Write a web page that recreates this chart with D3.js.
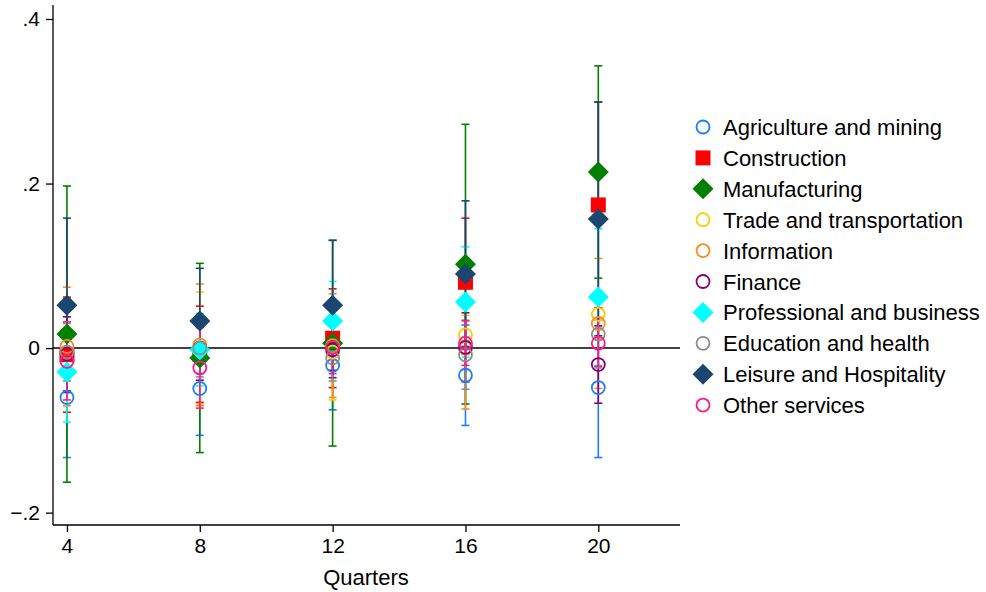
<!DOCTYPE html>
<html>
<head>
<meta charset="utf-8">
<script src="https://cdn.jsdelivr.net/npm/d3@7"></script>
<style>
  body { margin: 0; background: #fff; }
  svg { display: block; font-family: "Liberation Sans", Arial, sans-serif; }
</style>
</head>
<body>
<svg id="chart" width="986" height="592"></svg>
<script>
// Horizons (quarters) at which the effects are estimated
const quarters = [4, 8, 12, 16, 20];

// Industries, in plotting order
const industries = [
  "Agriculture and mining", "Construction", "Manufacturing",
  "Trade and transportation", "Information", "Finance",
  "Professional and business", "Education and health",
  "Leisure and Hospitality", "Other services"
];

// Point estimates per industry (one value per quarter)
const agriculture   = [-0.060, -0.049, -0.021, -0.033, -0.048];
const construction  = [-0.008, -0.007,  0.012,  0.080,  0.174];
const manufacturing = [ 0.017, -0.012,  0.006,  0.102,  0.214];
const trade         = [-0.005,  0.000, -0.005,  0.016,  0.041];
const information   = [ 0.002,  0.004,  0.003,  0.000,  0.030];
const finance       = [-0.007,  0.000, -0.002,  0.001, -0.020];
const professional  = [-0.029, -0.002,  0.033,  0.056,  0.062];
const education     = [-0.005,  0.000, -0.012, -0.008,  0.017];
const leisure       = [ 0.052,  0.033,  0.052,  0.090,  0.157];
const otherServices = [-0.016, -0.024,  0.001,  0.006,  0.006];

// Lower / upper confidence bounds per industry
const agricultureLo   = [-0.133, -0.106, -0.075, -0.094, -0.133];
const agricultureHi   = [ 0.013,  0.008,  0.033,  0.028,  0.037];
const constructionLo  = [-0.078, -0.066, -0.048,  0.002,  0.049];
const constructionHi  = [ 0.062,  0.051,  0.072,  0.158,  0.299];
const manufacturingLo = [-0.163, -0.127, -0.119, -0.068,  0.085];
const manufacturingHi = [ 0.197,  0.103,  0.131,  0.272,  0.343];
const tradeLo         = [-0.070, -0.068, -0.063, -0.008,  0.012];
const tradeHi         = [ 0.060,  0.068,  0.053,  0.040,  0.070];
const informationLo   = [-0.070, -0.070, -0.060, -0.074, -0.049];
const informationHi   = [ 0.074,  0.078,  0.066,  0.074,  0.109];
const financeLo       = [-0.052, -0.039, -0.036, -0.041, -0.067];
const financeHi       = [ 0.038,  0.039,  0.032,  0.043,  0.027];
const professionalLo  = [-0.090, -0.046, -0.015, -0.011, -0.021];
const professionalHi  = [ 0.032,  0.042,  0.081,  0.123,  0.145];
const educationLo     = [-0.040, -0.035, -0.040, -0.050, -0.024];
const educationHi     = [ 0.030,  0.035,  0.016,  0.034,  0.058];
const leisureLo       = [-0.054, -0.031, -0.027,  0.001,  0.015];
const leisureHi       = [ 0.158,  0.097,  0.131,  0.179,  0.299];
const otherLo         = [-0.063, -0.073, -0.031, -0.021, -0.022];
const otherHi         = [ 0.032,  0.025,  0.033,  0.033,  0.034];

const estimates = [agriculture, construction, manufacturing, trade, information,
                   finance, professional, education, leisure, otherServices];
const lowers = [agricultureLo, constructionLo, manufacturingLo, tradeLo, informationLo,
                financeLo, professionalLo, educationLo, leisureLo, otherLo];
const uppers = [agricultureHi, constructionHi, manufacturingHi, tradeHi, informationHi,
                financeHi, professionalHi, educationHi, leisureHi, otherHi];

const colors = ["#1a7fff", "#ff0000", "#008000", "#ffcc00", "#ff8c1a",
                "#800080", "#00ffff", "#8c8c8c", "#1a4670", "#ff1a8c"];
const shapes = ["circle", "square", "diamond", "circle", "circle",
                "circle", "diamond", "circle", "diamond", "circle"];

const yTicks = [-0.2, 0, 0.2, 0.4];

const svg = d3.select("#chart");
const x = d3.scaleLinear().domain([3.58, 22.46]).range([53, 680]);
const y = d3.scaleLinear().domain([-0.215, 0.417]).range([525, 5]);

const fmt = v => v === 0 ? "0" : (v < 0 ? "\u2212" : "") + d3.format(".1f")(Math.abs(v)).replace(/^0/, "");

// Axes
const yAxis = svg.append("g").attr("transform", "translate(53,0)")
  .call(d3.axisLeft(y).tickValues(yTicks).tickFormat(fmt).tickSize(7).tickPadding(6));
const xAxis = svg.append("g").attr("transform", "translate(0,525)")
  .call(d3.axisBottom(x).tickValues(quarters).tickFormat(d3.format("d")).tickSize(7).tickPadding(6));
[yAxis, xAxis].forEach(a => {
  a.select(".domain").attr("stroke", "#000").attr("stroke-width", 1.3);
  a.selectAll(".tick line").attr("stroke", "#000").attr("stroke-width", 1.3);
  a.selectAll(".tick text").attr("fill", "#000").attr("font-size", 21)
    .attr("font-family", "Liberation Sans, Arial, sans-serif");
});
yAxis.select(".domain").attr("d", "M0,5V525");
xAxis.select(".domain").attr("d", "M53,0H680");

svg.append("text").attr("x", 366).attr("y", 585).attr("text-anchor", "middle")
  .attr("font-size", 22).text("Quarters");

// Zero reference line
svg.append("line").attr("x1", 53).attr("x2", 680).attr("y1", y(0)).attr("y2", y(0))
  .attr("stroke", "#000").attr("stroke-width", 1.5);

// Confidence intervals with caps
const plot = svg.append("g");
const capHalf = 4;
industries.forEach((name, i) => {
  const g = plot.append("g").attr("stroke", colors[i]).attr("stroke-width", 1.6);
  quarters.forEach((q, j) => {
    const cx = x(q);
    g.append("line").attr("x1", cx).attr("x2", cx)
      .attr("y1", y(lowers[i][j])).attr("y2", y(uppers[i][j]));
    [lowers[i][j], uppers[i][j]].forEach(v => {
      g.append("line").attr("x1", cx - capHalf).attr("x2", cx + capHalf)
        .attr("y1", y(v)).attr("y2", y(v));
    });
  });
});

function drawMarker(g, shape, color, cx, cy) {
  if (shape === "circle") {
    g.append("circle").attr("cx", cx).attr("cy", cy).attr("r", 6.5)
      .attr("fill", "none").attr("stroke", color).attr("stroke-width", 1.8);
  } else if (shape === "square") {
    g.append("rect").attr("x", cx - 7.5).attr("y", cy - 7.5)
      .attr("width", 15).attr("height", 15).attr("fill", color);
  } else {
    const h = 10.5;
    g.append("path").attr("d", `M${cx},${cy - h}L${cx + h},${cy}L${cx},${cy + h}L${cx - h},${cy}Z`)
      .attr("fill", color);
  }
}

// Point estimates
industries.forEach((name, i) => {
  const g = plot.append("g");
  quarters.forEach((q, j) => drawMarker(g, shapes[i], colors[i], x(q), y(estimates[i][j])));
});

// Legend
const legend = svg.append("g");
industries.forEach((name, i) => {
  const ly = 127 + i * 30.9;
  drawMarker(legend, shapes[i], colors[i], 703, ly);
  legend.append("text").attr("x", 723).attr("y", ly + 8)
    .attr("font-size", 22).attr("fill", "#000").text(name);
});
</script>
</body>
</html>
